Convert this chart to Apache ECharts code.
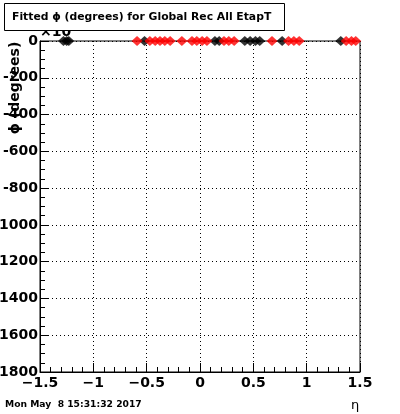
<!DOCTYPE html>
<html><head><meta charset="utf-8">
<script src="https://cdn.jsdelivr.net/npm/echarts@6/dist/echarts.min.js"></script>
<style>html,body{margin:0;padding:0;background:#fff}#c{width:400px;height:414px}</style>
</head><body><div id="c"></div>
<script>
const titleText = "Fitted \u03d5 (degrees) for Global Rec All EtapT";
const yTitle = "\u03d5 (degrees)";
const xTitle = "\u03b7";
const dateText = "Mon May  8 15:31:32 2017";
const exponentText = "\u00d710";
const xMin = -1.5, xMax = 1.5, xStep = 0.5;
const yMin = -1800, yMax = 0, yStep = 200;
// eta positions of points (phi = 0 for all)
const blackEta = [-1.28, -1.25, -1.23, -0.52, 0.14, 0.18, 0.42, 0.47, 0.52, 0.56, 0.77, 1.32];
const blackPhi = [0, 0, 0, 0, 0, 0, 0, 0, 0, 0, 0, 0];
const redEta = [-0.59, -0.47, -0.42, -0.375, -0.33, -0.28, -0.17, -0.075, -0.03, 0.02, 0.065, 0.225, 0.27, 0.32, 0.675, 0.83, 0.88, 0.93, 1.37, 1.42, 1.46];
const redPhi = [0, 0, 0, 0, 0, 0, 0, 0, 0, 0, 0, 0, 0, 0, 0, 0, 0, 0, 0, 0, 0];

const F = 'DejaVu Sans';
const chart = echarts.init(document.getElementById('c'), null, {renderer: 'canvas'});
const zip = (a, b) => a.map((v, i) => [v, b[i]]);
chart.setOption({
  animation: false,
  backgroundColor: '#fff',
  grid: {left: 40, right: 40, top: 41, bottom: 42, containLabel: false, outerBoundsMode: 'none',
    show: true, borderColor: '#000', borderWidth: 1, backgroundColor: 'transparent'},
  xAxis: {
    type: 'value', min: xMin, max: xMax, interval: xStep,
    axisLine: {onZero: false, lineStyle: {color: '#000', width: 1}},
    axisTick: {inside: true, length: 9, lineStyle: {color: '#000'}},
    minorTick: {show: true, splitNumber: 5, length: 5, lineStyle: {color: '#000'}},
    splitLine: {show: true, lineStyle: {color: '#000', type: [1, 3], width: 1}},
    axisLabel: {fontFamily: F, fontWeight: 'bold', fontSize: 14, color: '#000', margin: 4,
      formatter: v => String(v).replace('-', '\u2212')}
  },
  yAxis: {
    type: 'value', min: yMin, max: yMax, interval: yStep,
    axisLine: {onZero: false, lineStyle: {color: '#000', width: 1}},
    axisTick: {inside: true, length: 9, lineStyle: {color: '#000'}},
    minorTick: {show: true, splitNumber: 4, length: 5, lineStyle: {color: '#000'}},
    splitLine: {show: true, lineStyle: {color: '#000', type: [1, 3], width: 1}},
    axisLabel: {fontFamily: F, fontWeight: 'bold', fontSize: 14, color: '#000', margin: 2,
      formatter: v => String(v)}
  },
  series: [
    {type: 'scatter', data: zip(blackEta, blackPhi), symbol: 'diamond', symbolSize: [11, 10], itemStyle: {color: '#000'}, clip: false, z: 3},
    {type: 'scatter', data: zip(redEta, redPhi), symbol: 'diamond', symbolSize: [11, 10], itemStyle: {color: '#ff0000'}, clip: false, z: 4}
  ],
  graphic: [
    {type: 'text', x: 40, y: 25, z: 5, style: {text: exponentText, font: 'bold 14px ' + F, fill: '#000'}},
    {type: 'rect', shape: {x: 4.5, y: 3.5, width: 280, height: 27}, z: 10, style: {fill: '#fff', stroke: '#000', lineWidth: 1}},
    {type: 'text', x: 12, y: 17, z: 11, style: {text: titleText, font: 'bold 10.8px ' + F, fill: '#000', textVerticalAlign: 'middle'}},
    {type: 'text', x: 15, y: 88, rotation: Math.PI / 2, z: 11, style: {text: yTitle, font: 'bold 14px ' + F, fill: '#000', textAlign: 'center', textVerticalAlign: 'middle'}},
    {type: 'text', x: 355, y: 406, z: 11, style: {text: xTitle, font: '13px ' + F, fill: '#000', textAlign: 'center', textVerticalAlign: 'middle'}},
    {type: 'text', x: 5, y: 405, z: 11, style: {text: dateText, font: 'bold 9.2px ' + F, fill: '#000', textVerticalAlign: 'middle'}}
  ]
});
</script></body></html>
